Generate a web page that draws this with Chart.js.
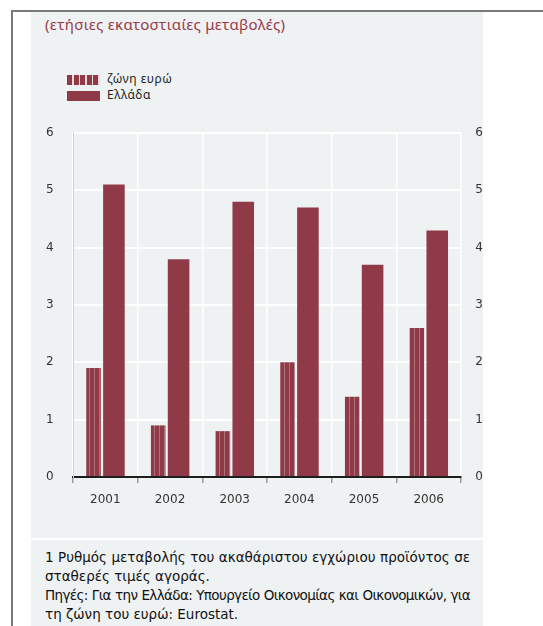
<!DOCTYPE html>
<html>
<head>
<meta charset="utf-8">
<script src="https://cdn.jsdelivr.net/npm/chart.js@4"></script>
<style>
  body { margin: 0; width: 543px; height: 626px; overflow: hidden; background: #fff; position: relative; }
  .frame { position: absolute; left: 11px; top: 10px; width: 540px; height: 630px; border-top: 2px solid #7a7a7a; border-left: 2px solid #7a7a7a; }
  .panel { position: absolute; left: 31px; top: 12px; width: 452px; height: 614px; background: #eef2f3; }
  .sep { position: absolute; left: 31px; top: 538px; width: 452px; height: 2px; background: #fff; }
  .title { position: absolute; left: 45px; top: 14px; font: 15px 'Noto Sans', sans-serif; color: #9a3b4a; white-space: nowrap; letter-spacing: 0.3px; }
  .leg { position: absolute; left: 67px; font: 12px 'Noto Sans', sans-serif; color: #222; white-space: nowrap; letter-spacing: 0.5px; }
  .leg .sw { display: inline-block; width: 33px; height: 10px; vertical-align: middle; margin-right: 7px; background: #8f3a46; }
  .leg .striped { background: repeating-linear-gradient(90deg, #8f3a46 0 5px, #e9dadd 5px 6.6px); }
  .chartbox { position: absolute; left: 20px; top: 120px; width: 480px; height: 387px; }
  .note { position: absolute; left: 45px; top: 548px; width: 425px; font: 13.5px 'DejaVu Sans', sans-serif; color: #111; line-height: 19px; }
  .note div { white-space: nowrap; }
  .note .j { text-align: justify; text-align-last: justify; }
</style>
</head>
<body>
<div class="frame"></div>
<div class="panel"></div>
<div class="sep"></div>
<div class="title">(ετήσιες εκατοστιαίες μεταβολές)</div>
<div class="leg" style="top:70px"><span class="sw striped"></span>ζώνη ευρώ</div>
<div class="leg" style="top:86px"><span class="sw"></span>Ελλάδα</div>
<div class="chartbox"><canvas id="chart" width="480" height="387"></canvas></div>
<div class="note">
  <div class="j">1 Ρυθμός μεταβολής του ακαθάριστου εγχώριου προϊόντος σε</div>
  <div>σταθερές τιμές αγοράς.</div>
  <div class="j">Πηγές: Για την Ελλάδα: Υπουργείο Οικονομίας και Οικονομικών, για</div>
  <div>τη ζώνη του ευρώ: Eurostat.</div>
</div>
<script>
// data
const years = ['2001', '2002', '2003', '2004', '2005', '2006'];
const euroArea = [1.9, 0.9, 0.8, 2.0, 1.4, 2.6];
const greece = [5.1, 3.8, 4.8, 4.7, 3.7, 4.3];
const yTicks = [0, 1, 2, 3, 4, 5, 6];

const MAROON = '#8f3a46';

// squeeze justified footnote lines that are too long for the box
document.querySelectorAll('.note .j').forEach(el => {
  const span = document.createElement('span');
  span.textContent = el.textContent;
  span.style.whiteSpace = 'nowrap';
  document.body.appendChild(span);
  span.style.font = getComputedStyle(el).font;
  const natural = span.getBoundingClientRect().width;
  span.remove();
  const box = el.clientWidth;
  if (natural > box) {
    el.style.letterSpacing = ((box - natural) / el.textContent.length - 0.05) + 'px';
  }
});

// striped fill for the euro area bars
function makeStripes() {
  const c = document.createElement('canvas');
  c.width = 5;
  c.height = 8;
  const g = c.getContext('2d');
  g.fillStyle = MAROON;
  g.fillRect(0, 0, 5, 8);
  g.fillStyle = 'rgba(255, 255, 255, 0.28)';
  g.fillRect(4, 0, 1, 8);
  return g.createPattern(c, 'repeat');
}

const tickFont = { family: "'DejaVu Sans', sans-serif", size: 12 };

new Chart(document.getElementById('chart').getContext('2d'), {
  type: 'bar',
  data: {
    labels: years,
    datasets: [
      {
        label: 'ζώνη ευρώ',
        data: euroArea,
        backgroundColor: makeStripes(),
        borderWidth: 0,
        categoryPercentage: 0.73,
        barPercentage: 0.617
      },
      {
        label: 'Ελλάδα',
        data: greece,
        backgroundColor: MAROON,
        borderWidth: 0,
        categoryPercentage: 0.531,
        barPercentage: 1.257
      }
    ]
  },
  options: {
    responsive: false,
    animation: false,
    layout: { padding: { top: 13, bottom: 0, left: 26, right: 17 } },
    plugins: {
      legend: { display: false },
      tooltip: { enabled: false }
    },
    scales: {
      x: {
        offset: true,
        grid: {
          offset: true,
          color: '#ffffff',
          lineWidth: 1.5,
          drawTicks: true,
          tickLength: 6,
          tickColor: '#9a9a9a'
        },
        border: { display: true, color: '#1e1e1e', width: 2 },
        ticks: { color: '#333', font: tickFont, padding: 10 },
        afterFit: function (scale) { scale.height = 30; }
      },
      y: {
        min: 0,
        max: 6,
        afterBuildTicks: function (scale) { scale.ticks = yTicks.map(v => ({ value: v })); },
        grid: { color: '#ffffff', lineWidth: 2, drawTicks: false },
        border: { display: true, color: '#cdd2d4', width: 1 },
        ticks: { color: '#333', font: tickFont, padding: 0, crossAlign: 'far' },
        afterFit: function (scale) { scale.width = 27; }
      },
      y1: {
        position: 'right',
        min: 0,
        max: 6,
        afterBuildTicks: function (scale) { scale.ticks = yTicks.map(v => ({ value: v })); },
        grid: { drawOnChartArea: false, drawTicks: false },
        border: { display: false },
        ticks: { color: '#333', font: tickFont, padding: 0, crossAlign: 'far' },
        afterFit: function (scale) { scale.width = 22; }
      }
    }
  }
});
</script>
</body>
</html>
